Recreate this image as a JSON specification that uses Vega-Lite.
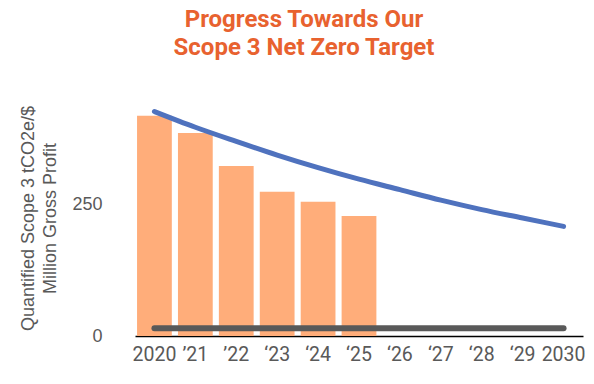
{
  "$schema": "https://vega.github.io/schema/vega-lite/v6.json",
  "autosize": "none",
  "width": 448,
  "height": 236,
  "padding": {"left": 135, "top": 100, "right": 11, "bottom": 48},
  "background": "white",
  "config": {"view": {"stroke": null}, "font": "Roboto"},
  "title": {
    "text": ["Progress Towards Our", "Scope 3 Net Zero Target"],
    "color": "#E8622F",
    "font": "Roboto",
    "fontWeight": "bold",
    "fontSize": 24,
    "lineHeight": 28,
    "anchor": "middle",
    "dx": -55,
    "offset": 40
  },
  "data": {
    "values": [
      {"year": "2020", "actual": 420, "target": 428, "floor": 15},
      {"year": "’21", "actual": 387, "target": 398, "floor": 15},
      {"year": "’22", "actual": 324, "target": 371, "floor": 15},
      {"year": "‘23", "actual": 275, "target": 345, "floor": 15},
      {"year": "‘24", "actual": 256, "target": 321, "floor": 15},
      {"year": "‘25", "actual": 229, "target": 299, "floor": 15},
      {"year": "‘26", "actual": null, "target": 279, "floor": 15},
      {"year": "‘27", "actual": null, "target": 259, "floor": 15},
      {"year": "‘28", "actual": null, "target": 241, "floor": 15},
      {"year": "‘29", "actual": null, "target": 225, "floor": 15},
      {"year": "2030", "actual": null, "target": 209, "floor": 15}
    ]
  },
  "encoding": {
    "x": {
      "field": "year",
      "type": "nominal",
      "sort": null,
      "scale": {"paddingInner": 0.15, "paddingOuter": 0.05},
      "axis": {
        "title": null,
        "labelAngle": 0,
        "labelFontSize": 19.5,
        "labelColor": "#595959",
        "labelFont": "Roboto",
        "ticks": false,
        "labelPadding": 9,
        "domainColor": "#000000",
        "domainWidth": 1.5
      }
    }
  },
  "layer": [
    {
      "mark": {"type": "bar", "color": "#FFAD7A"},
      "transform": [{"filter": "datum.actual != null"}],
      "encoding": {
        "y": {
          "field": "actual",
          "type": "quantitative",
          "scale": {"domain": [0, 450], "nice": false},
          "axis": {
            "values": [0, 250],
            "grid": false,
            "domain": false,
            "ticks": false,
            "labelPadding": 33,
            "labelFontSize": 18,
            "labelColor": "#595959",
            "labelFont": "Liberation Sans",
            "title": ["Quantified Scope 3 tCO2e/$", "Million Gross Profit"],
            "titleFontSize": 18,
            "titleFontWeight": "normal",
            "titleColor": "#595959",
            "titleFont": "Liberation Sans",
            "titleLineHeight": 22,
            "titlePadding": 12
          }
        }
      }
    },
    {
      "mark": {"type": "line", "color": "#4F72BE", "strokeWidth": 5, "strokeCap": "round", "interpolate": "monotone"},
      "encoding": {"y": {"field": "target", "type": "quantitative"}}
    },
    {
      "mark": {"type": "line", "color": "#595959", "strokeWidth": 6, "strokeCap": "round"},
      "encoding": {"y": {"field": "floor", "type": "quantitative"}}
    }
  ]
}
